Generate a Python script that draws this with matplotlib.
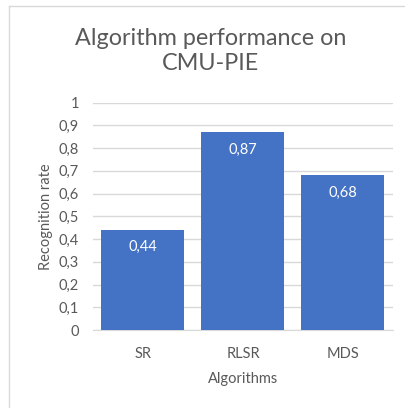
import matplotlib
matplotlib.use("Agg")
import matplotlib.pyplot as plt
from matplotlib.lines import Line2D

categories = ["SR", "RLSR", "MDS"]
values = [0.44, 0.87, 0.68]
yticks = [0, 0.1, 0.2, 0.3, 0.4, 0.5, 0.6, 0.7, 0.8, 0.9, 1.0]
ytick_labels = ["0", "0,1", "0,2", "0,3", "0,4", "0,5", "0,6", "0,7", "0,8", "0,9", "1"]
value_labels = ["0,44", "0,87", "0,68"]

W, H = 406, 408
plt.rcParams["font.family"] = ["Lato", "DejaVu Sans"]
fig = plt.figure(figsize=(W / 100, H / 100), dpi=100)

# axes box in pixel coordinates
x0, x1 = 93, 393
y_top, y_bot = 102.5, 330
ax = fig.add_axes([x0 / W, 1 - y_bot / H, (x1 - x0) / W, (y_bot - y_top) / H])

bar_color = "#4472C4"
text_gray = "#595959"
grid_gray = "#D9D9D9"

xs = range(len(categories))
ax.bar(xs, values, width=0.83, color=bar_color, zorder=3)
ax.set_xlim(-0.5, len(categories) - 0.5)
ax.set_ylim(0, 1)
ax.set_yticks(yticks)
ax.set_yticklabels(ytick_labels)
ax.set_xticks(list(xs))
ax.set_xticklabels(categories)
ax.grid(axis="y", color=grid_gray, linewidth=1, zorder=0)
for s in ["top", "right", "left"]:
    ax.spines[s].set_visible(False)
ax.spines["bottom"].set_color(grid_gray)
ax.tick_params(axis="both", length=0, colors=text_gray, labelsize=10.5)
ax.tick_params(axis="y", pad=10)
ax.tick_params(axis="x", pad=12)

for x, v, lab in zip(xs, values, value_labels):
    ax.annotate(lab, (x, v), xytext=(0, -12.5), textcoords="offset points",
                ha="center", va="center", color="white", fontsize=10.5, zorder=4)

ax.set_ylabel("Recognition rate", color=text_gray, fontsize=10.5, labelpad=4)
ax.set_xlabel("Algorithms", color=text_gray, fontsize=10.5, labelpad=8)

fig.text(211 / W, 1 - 51 / H, "Algorithm performance on\nCMU-PIE", ha="center",
         va="center", fontsize=16.8, color=text_gray, linespacing=1.25)

# chart area frame (left and top edges)
fig.add_artist(Line2D([9.5 / W, 9.5 / W], [0, 1 - 5.5 / H], transform=fig.transFigure,
                      color="#D9D9D9", linewidth=1))
fig.add_artist(Line2D([9.5 / W, 1], [1 - 5.5 / H, 1 - 5.5 / H], transform=fig.transFigure,
                      color="#D9D9D9", linewidth=1))

fig.savefig("out.png", dpi=100, facecolor="white")
